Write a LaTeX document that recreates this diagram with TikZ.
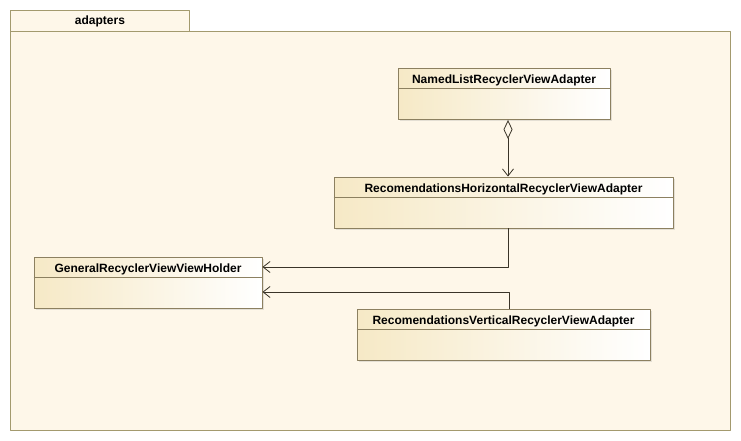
\documentclass[tikz,border=0pt]{standalone}
\usepackage{fontspec}
\setmainfont{Liberation Sans}
\usetikzlibrary{arrows.meta,shadows,positioning}

\definecolor{pkgfill}{HTML}{FEF7E9}
\definecolor{pkgline}{HTML}{A39A6E}
\definecolor{clsline}{HTML}{8C8060}
\definecolor{clstan}{HTML}{F6E9C6}
\definecolor{edgecol}{HTML}{3A3428}

\tikzset{
  classbox/.style={draw=clsline, line width=0.9pt, left color=clstan, right color=white,
    minimum height=51pt, inner sep=0pt,
    drop shadow={opacity=0.2, shadow xshift=1.5pt, shadow yshift=-1.5pt}},
  classname/.style={font=\fontsize{12}{14}\selectfont\bfseries, inner sep=0pt, anchor=base},
  headline/.style={draw=clsline, line width=0.7pt},
  assoc/.style={draw=edgecol, line width=0.8pt, -{Straight Barb[length=7pt,width=11pt,line width=0.8pt]}},
  aggr/.style={assoc, {Diamond[open,length=19pt,width=9pt,line width=0.8pt]}-{Straight Barb[length=7pt,width=11pt,line width=0.8pt]}}
}

\begin{document}
\begin{tikzpicture}[x=1pt, y=-1pt, line join=round]
  \useasboundingbox[fill=white] (0,0) rectangle (741,441);
  % package frame
  \draw[draw=pkgline, fill=pkgfill, line width=0.9pt] (10,10) rectangle (189,31);
  \draw[draw=pkgline, fill=pkgfill, line width=0.9pt] (10,31) rectangle (730,430);
  \node[font=\fontsize{12}{14}\selectfont\bfseries, inner sep=0pt, anchor=base] (pkg) at (100,25) {adapters};

  % classes
  \node[classbox, minimum width=212pt] (named) at (504,94) {};
  \node[classbox, minimum width=339pt] (horiz) at (503.5,202.5) {};
  \node[classbox, minimum width=228pt] (holder) at (148,282.5) {};
  \node[classbox, minimum width=293pt] (vert) at (503.5,334.5) {};

  \foreach \c/\t in {named/NamedListRecyclerViewAdapter,
                     horiz/RecomendationsHorizontalRecyclerViewAdapter,
                     holder/GeneralRecyclerViewViewHolder,
                     vert/RecomendationsVerticalRecyclerViewAdapter} {
    \node[classname] (\c-name) at ([yshift=-15.5pt]\c.north) {\t};
    \draw[headline] ([yshift=-20.5pt]\c.north west) -- ([yshift=-20.5pt]\c.north east);
  }

  % relations
  \draw[aggr] ([xshift=4pt]named.south) -- ([xshift=4pt]named.south |- horiz.north);
  \draw[assoc] ([xshift=4.5pt]horiz.south) |- ([yshift=15.5pt]holder.east);
  \draw[assoc] ([xshift=5.5pt]vert.north) |- ([yshift=-9.5pt]holder.east);
\end{tikzpicture}
\end{document}
